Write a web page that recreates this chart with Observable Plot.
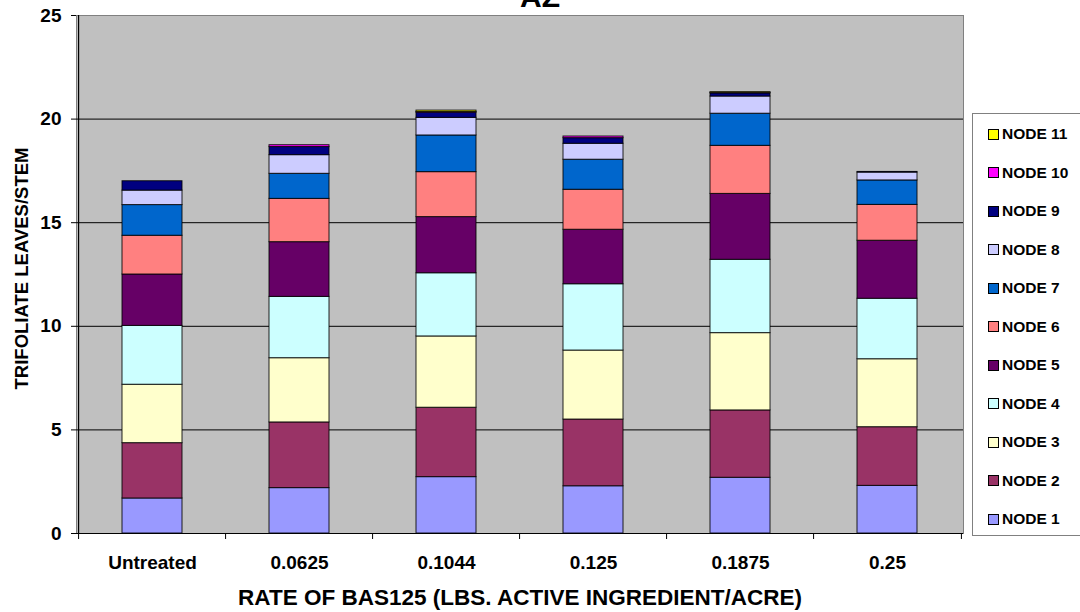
<!DOCTYPE html>
<html><head><meta charset="utf-8">
<script src="https://cdn.jsdelivr.net/npm/d3@7"></script>
<script src="https://cdn.jsdelivr.net/npm/@observablehq/plot@0.6"></script>
<style>
body{margin:0;background:#fff;font-family:"Liberation Sans",Arial,sans-serif;}
#wrap{position:relative;width:1080px;height:612px;overflow:hidden;}
#title{position:absolute;left:0;top:-18px;width:1080px;text-align:center;font-weight:bold;font-size:30px;line-height:30px;}
#legend{position:absolute;left:972px;top:113px;width:140px;height:423px;border:1px solid #808080;background:#fff;box-sizing:border-box;}
.item{position:absolute;left:15px;height:16px;font-weight:bold;font-size:15.5px;line-height:16px;display:flex;align-items:center;white-space:nowrap;}
.sw{width:9px;height:9px;border:1px solid #000;margin-right:3px;flex:none;}
</style></head>
<body><div id="wrap"><div id="chart"></div><div id="title">AZ</div><div id="legend"></div></div>
<script>
const categories = ["Untreated", "0.0625", "0.1044", "0.125", "0.1875", "0.25"];
const nodes = ["NODE 1","NODE 2","NODE 3","NODE 4","NODE 5","NODE 6","NODE 7","NODE 8","NODE 9","NODE 10","NODE 11"];
const nodeColors = ["#9999FF","#993366","#FFFFCC","#CCFFFF","#660066","#FF8080","#0066CC","#CCCCFF","#000080","#FF00FF","#FFFF00"];
const node1  = [1.69, 2.19, 2.72, 2.28, 2.69, 2.30];
const node2  = [2.67, 3.17, 3.35, 3.22, 3.25, 2.83];
const node3  = [2.82, 3.10, 3.44, 3.33, 3.73, 3.28];
const node4  = [2.84, 2.96, 3.05, 3.20, 3.54, 2.92];
const node5  = [2.48, 2.64, 2.71, 2.63, 3.18, 2.80];
const node6  = [1.87, 2.09, 2.17, 1.93, 2.32, 1.73];
const node7  = [1.48, 1.21, 1.77, 1.45, 1.55, 1.18];
const node8  = [0.70, 0.90, 0.85, 0.77, 0.83, 0.38];
const node9  = [0.45, 0.39, 0.25, 0.27, 0.15, 0.03];
const node10 = [0.00, 0.09, 0.03, 0.08, 0.03, 0.00];
const node11 = [0.00, 0.00, 0.07, 0.00, 0.03, 0.00];
const yTicks = [0, 5, 10, 15, 20, 25];
const gridValues = [5, 10, 15, 20];
const xTitle = "RATE OF BAS125 (LBS. ACTIVE INGREDIENT/ACRE)";
const yTitle = "TRIFOLIATE LEAVES/STEM";

const series = [node1,node2,node3,node4,node5,node6,node7,node8,node9,node10,node11];
const data = [];
categories.forEach((c, i) => series.forEach((s, k) => data.push({rate: c, node: nodes[k], value: s[i]})));

const W = 1080, H = 612, mL = 76, mR = 117, mT = 15, mB = 79;
const step = (W - mL - mR) / categories.length;
const font = '"Liberation Sans", Arial, sans-serif';

const chart = Plot.plot({
  width: W, height: H,
  marginLeft: mL, marginRight: mR, marginTop: mT, marginBottom: mB,
  style: {fontFamily: font, fontWeight: "bold", background: "transparent", overflow: "visible"},
  x: {domain: categories, paddingInner: 0.594, paddingOuter: 0.297, label: null},
  y: {domain: [0, 25], ticks: yTicks, label: null},
  color: {domain: nodes, range: nodeColors},
  marks: [
    Plot.frame({fill: "#C0C0C0", stroke: "#808080"}),
    Plot.ruleY(gridValues, {stroke: "#000", strokeWidth: 1}),
    Plot.barY(data, Plot.stackY({x: "rate", y: "value", z: "node", fill: "node", stroke: "#000", strokeWidth: 1, strokeOpacity: 0.85})),
    Plot.ruleY([0], {stroke: "#000", strokeWidth: 1.2}),
    Plot.ruleX(categories, {x: d => d, y1: 0, y2: 0, dx: -step / 2, insetBottom: -6, stroke: "#000"}),
    Plot.ruleX(categories.slice(-1), {x: d => d, y1: 0, y2: 0, dx: step / 2, insetBottom: -6, stroke: "#000"}),
    Plot.ruleX(categories.slice(0,1), {x: d => d, y1: 0, y2: 25, dx: -step / 2, stroke: "#000", strokeWidth: 1.2}),
    Plot.axisY({ticks: yTicks, tickSize: 5, tickPadding: 10, fontSize: 19, fontWeight: "bold", label: null}),
    Plot.axisX({tickSize: 0, tickPadding: 22, fontSize: 19, fontWeight: "bold", label: null}),
    Plot.text([xTitle], {frameAnchor: "bottom", dy: 71, fontSize: 22.5, fontWeight: "bold", fill: "#000", lineAnchor: "bottom"}),
    Plot.text([yTitle], {frameAnchor: "left", textAnchor: "middle", dx: -54, dy: -6, rotate: -90, fontSize: 18.5, fontWeight: "bold", fill: "#000"})
  ]
});
document.getElementById("chart").appendChild(chart);

const legend = document.getElementById("legend");
nodes.slice().reverse().forEach((n, i) => {
  const item = document.createElement("div");
  item.className = "item";
  item.style.top = (12 + i * 38.5) + "px";
  const sw = document.createElement("span");
  sw.className = "sw";
  sw.style.background = nodeColors[nodes.indexOf(n)];
  const t = document.createElement("span");
  t.textContent = n;
  item.appendChild(sw); item.appendChild(t);
  legend.appendChild(item);
});
</script>
</body></html>
